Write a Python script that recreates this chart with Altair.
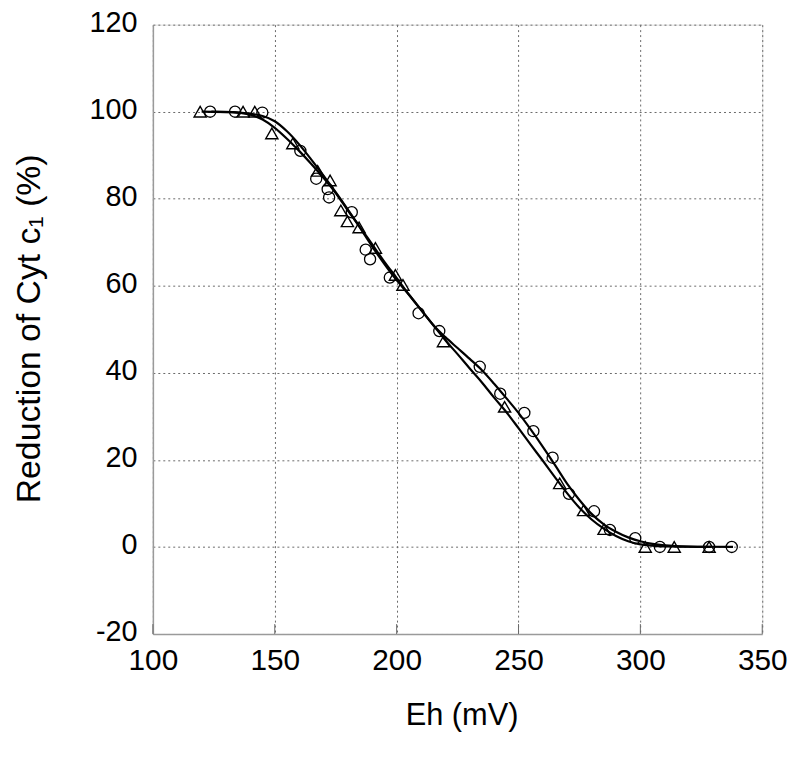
import altair as alt
import pandas as pd

# ---- data ----
circ_x = [123.5, 133.7, 144.9, 160.5, 167.0, 171.7, 172.3, 181.6, 187.3, 189.1,
          197.2, 209.0, 217.5, 234.1, 242.5, 252.4, 256.1, 264.0, 270.7, 281.0,
          287.5, 297.9, 308.0, 328.2, 337.5]
circ_y = [100.0, 100.0, 99.8, 91.0, 84.6, 82.2, 80.3, 76.9, 68.3, 66.1,
          61.9, 53.7, 49.6, 41.4, 35.2, 30.8, 26.6, 20.5, 12.2, 8.2,
          3.9, 2.0, 0.0, 0.0, 0.0]

tri_x = [119.4, 137.0, 141.8, 148.8, 157.4, 167.6, 172.7, 177.1, 179.8, 184.6,
         191.3, 199.5, 202.6, 219.2, 244.3, 266.9, 276.7, 285.1, 302.0, 313.9, 328.2]
tri_y = [100.0, 100.0, 100.0, 95.0, 92.7, 86.4, 84.2, 77.3, 74.8, 73.4,
         68.7, 62.5, 60.2, 47.2, 32.2, 14.6, 8.4, 4.1, 0.0, 0.0, 0.0]

fitc_x = [124, 135, 145, 150, 155, 160, 165, 170, 175, 180, 185, 190, 195, 200,
          205, 210, 215, 220, 225, 230, 235, 240, 245, 250, 255, 260, 265, 270,
          275, 280, 285, 290, 295, 300, 305, 310, 320, 338]
fitc_y = [100.0, 99.8, 99.0, 97.8, 95.5, 92.5, 89.0, 85.3, 81.5, 77.5, 73.3, 69.0,
          65.0, 61.3, 58.0, 54.5, 51.0, 48.2, 45.7, 43.2, 40.6, 37.5, 34.2, 30.8,
          27.0, 23.0, 18.8, 14.5, 10.8, 7.6, 5.2, 3.5, 2.2, 1.3, 0.7, 0.35, 0.1, 0.0]

fitt_x = [120, 135, 140, 145, 150, 155, 160, 165, 170, 175, 180, 185, 190, 195,
          200, 205, 210, 215, 220, 225, 230, 235, 240, 245, 250, 255, 260, 265,
          270, 275, 280, 285, 290, 295, 300, 305, 310, 329]
fitt_y = [100.0, 99.8, 99.3, 98.2, 96.3, 93.8, 91.0, 88.0, 84.8, 81.3, 77.3, 73.5,
          69.5, 65.5, 61.8, 58.0, 54.5, 51.0, 47.5, 44.3, 41.0, 37.8, 34.3, 31.0,
          27.3, 23.5, 19.8, 16.0, 12.3, 9.0, 6.3, 4.2, 2.5, 1.3, 0.6, 0.3, 0.1, 0.0]

x_ticks = [100, 150, 200, 250, 300, 350]
y_ticks = [-20, 0, 20, 40, 60, 80, 100, 120]

# ---- chart ----
W = H = 614
FONT = "Liberation Sans"

circ = pd.DataFrame({"Eh": circ_x, "R": circ_y})
tri = pd.DataFrame({"Eh": tri_x, "R": tri_y})
fitc = pd.DataFrame({"Eh": fitc_x, "R": fitc_y, "s": "c"})
fitt = pd.DataFrame({"Eh": fitt_x, "R": fitt_y, "s": "t"})
fits = pd.concat([fitc, fitt])
ticks = pd.DataFrame({"Eh": x_ticks})

xs = alt.Scale(domain=[100, 350], nice=False, zero=False)
ys = alt.Scale(domain=[-20, 120], nice=False, zero=False)

xaxis = alt.Axis(values=x_ticks, title="Eh (mV)", grid=True, gridDash=[2, 3],
                 gridColor="#6a6a6a", gridWidth=1, ticks=False,
                 labelExpr="'' + datum.value", labelFlush=False,
                 labelFontSize=30, labelFont=FONT, labelColor="black", labelPadding=12,
                 titleFontSize=31, titleFont=FONT, titleFontWeight="normal",
                 titleColor="black", titleX=311, titleY=82, titleBaseline="middle",
                 domainColor="#9a9a9a", domainWidth=1.5)
yaxis = alt.Axis(values=y_ticks, title="Reduction of Cyt c\u2081 (%)", grid=True,
                 gridDash=[2, 3], gridColor="#6a6a6a", gridWidth=1, ticks=False,
                 labelExpr="'' + datum.value", labelFlush=False,
                 labelFontSize=29, labelFont=FONT, labelColor="black", labelPadding=16,
                 labelOffset=-2,
                 titleFontSize=34, titleFont=FONT, titleFontWeight="normal",
                 titleColor="black", titleX=-124, titleY=306, titleBaseline="middle",
                 domainColor="#9a9a9a", domainWidth=1.5)

X = alt.X("Eh:Q", scale=xs, axis=xaxis)
Y = alt.Y("R:Q", scale=ys, axis=yaxis)

lines = alt.Chart(fits).mark_line(color="black", strokeWidth=2.2, interpolate="monotone").encode(
    x=X, y=Y, detail="s:N")

circles = alt.Chart(circ).mark_point(shape="circle", filled=False, size=125,
                                     stroke="black", strokeWidth=1.3, opacity=1).encode(x=X, y=Y)
triangles = alt.Chart(tri).mark_point(shape="triangle-up", filled=False, size=150,
                                      stroke="black", strokeWidth=1.4, opacity=1).encode(x=X, y=Y)

tickmarks = alt.Chart(ticks).mark_rule(color="#6a6a6a", strokeWidth=1).encode(
    x=alt.X("Eh:Q", scale=xs, axis=xaxis), y=alt.value(H), y2=alt.value(H - 10))

chart = alt.layer(tickmarks, lines, circles, triangles).properties(
    width=W, height=H,
    autosize=alt.AutoSizeParams(type="none"),
    padding={"left": 146, "top": 14, "right": 30, "bottom": 100},
).configure_view(stroke="#9a9a9a", strokeWidth=1.5).configure(background="white")

chart.save("out.html", embed_options={"renderer": "svg", "actions": False})
